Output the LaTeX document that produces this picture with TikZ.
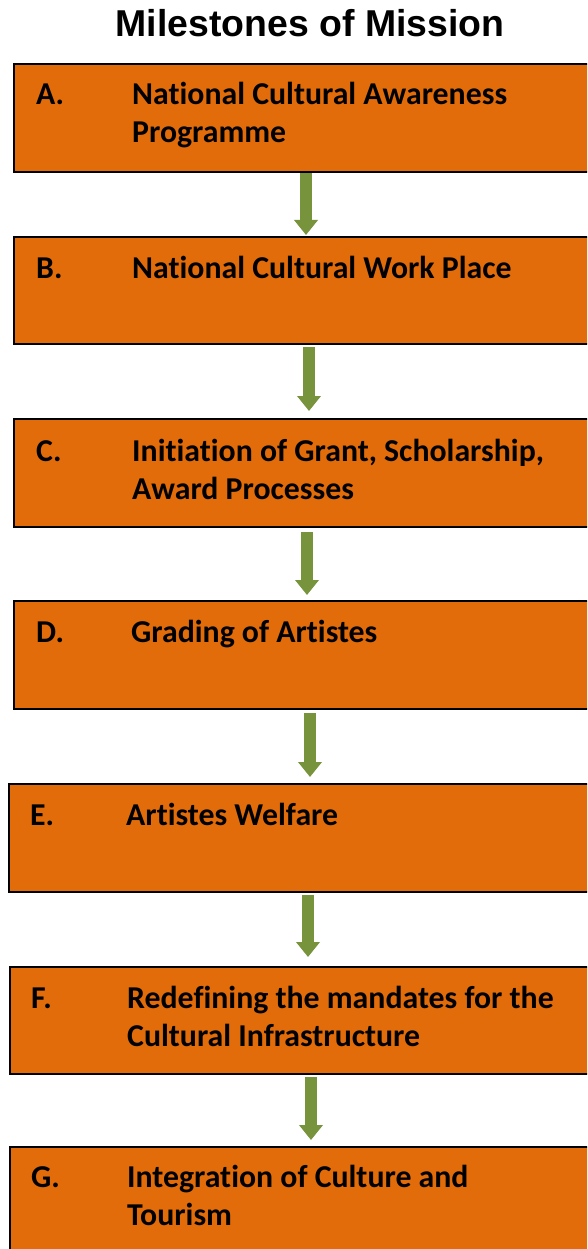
\documentclass[tikz,border=0pt]{standalone}
\usepackage{fontspec}
\setmainfont{Carlito}[Ligatures=NoCommon]
\newfontfamily\titlefont{Liberation Sans}
\usetikzlibrary{arrows.meta}
\definecolor{boxorange}{HTML}{E26B0A}
\definecolor{arrgreen}{HTML}{77933C}
\tikzset{
  stagebox/.style={draw=black, line width=2pt, fill=boxorange, rectangle, inner sep=0pt, outer sep=0pt, anchor=north west},
  lbl/.style={anchor=base west, inner sep=0pt, font=\fontsize{31.8}{38}\selectfont\bfseries},
  arr/.style={draw=arrgreen, line width=12pt, -{Triangle[width=23pt,length=15pt]}},
}
\begin{document}
\begin{tikzpicture}[x=1pt,y=-1pt]
\useasboundingbox (0,0) rectangle (587,1249);
\clip (0,0) rectangle (587,1249);
\fill[white] (0,0) rectangle (587,1249);
\node[anchor=base, inner sep=0pt, font=\titlefont\fontsize{37.4}{44}\selectfont\bfseries] (title) at (310,37) {Milestones of Mission};
% boxes
\node[stagebox, minimum width=590pt, minimum height=108pt] (boxA) at (13.5,64) {};
\node[stagebox, minimum width=590pt, minimum height=107pt] (boxB) at (13.5,237) {};
\node[stagebox, minimum width=590pt, minimum height=108pt] (boxC) at (14,419) {};
\node[stagebox, minimum width=590pt, minimum height=108pt] (boxD) at (14,601) {};
\node[stagebox, minimum width=595pt, minimum height=108pt] (boxE) at (8.5,784) {};
\node[stagebox, minimum width=595pt, minimum height=107pt] (boxF) at (9.5,967) {};
\node[stagebox, minimum width=595pt, minimum height=130pt] (boxG) at (9.5,1147) {};
% labels
\node[lbl] (letA) at (36,105) {A.};
\node[lbl] (txtA1) at (132,105) {National Cultural Awareness};
\node[lbl] (txtA2) at (132,143) {Programme};
\node[lbl] (letB) at (36,278) {B.};
\node[lbl] (txtB1) at (132,278) {National Cultural Work Place};
\node[lbl] (letC) at (36,461) {C.};
\node[lbl] (txtC1) at (132,461) {Initiation of Grant, Scholarship,};
\node[lbl] (txtC2) at (132,499) {Award Processes};
\node[lbl] (letD) at (36,642) {D.};
\node[lbl] (txtD1) at (131,642) {Grading of Artistes};
\node[lbl] (letE) at (30,825) {E.};
\node[lbl] (txtE1) at (126,825) {Artistes Welfare};
\node[lbl] (letF) at (31,1008) {F.};
\node[lbl] (txtF1) at (127,1008) {Redefining the mandates for the};
\node[lbl] (txtF2) at (127,1046) {Cultural Infrastructure};
\node[lbl] (letG) at (31,1187) {G.};
\node[lbl] (txtG1) at (127,1187) {Integration of Culture and};
\node[lbl] (txtG2) at (127,1225) {Tourism};
% arrows
\draw[arr, shorten <=1pt, shorten >=2pt] (boxA.south west -| 306,0) -- (boxB.north west -| 306,0);
\draw[arr, shorten <=3pt, shorten >=8pt] (boxB.south west -| 309,0) -- (boxC.north west -| 309,0);
\draw[arr, shorten <=5pt, shorten >=6pt] (boxC.south west -| 307,0) -- (boxD.north west -| 307,0);
\draw[arr, shorten <=4pt, shorten >=7pt] (boxD.south west -| 310,0) -- (boxE.north west -| 310,0);
\draw[arr, shorten <=3pt, shorten >=10pt] (boxE.south west -| 308,0) -- (boxF.north west -| 308,0);
\draw[arr, shorten <=3pt, shorten >=7pt] (boxF.south west -| 311,0) -- (boxG.north west -| 311,0);
\end{tikzpicture}
\end{document}
